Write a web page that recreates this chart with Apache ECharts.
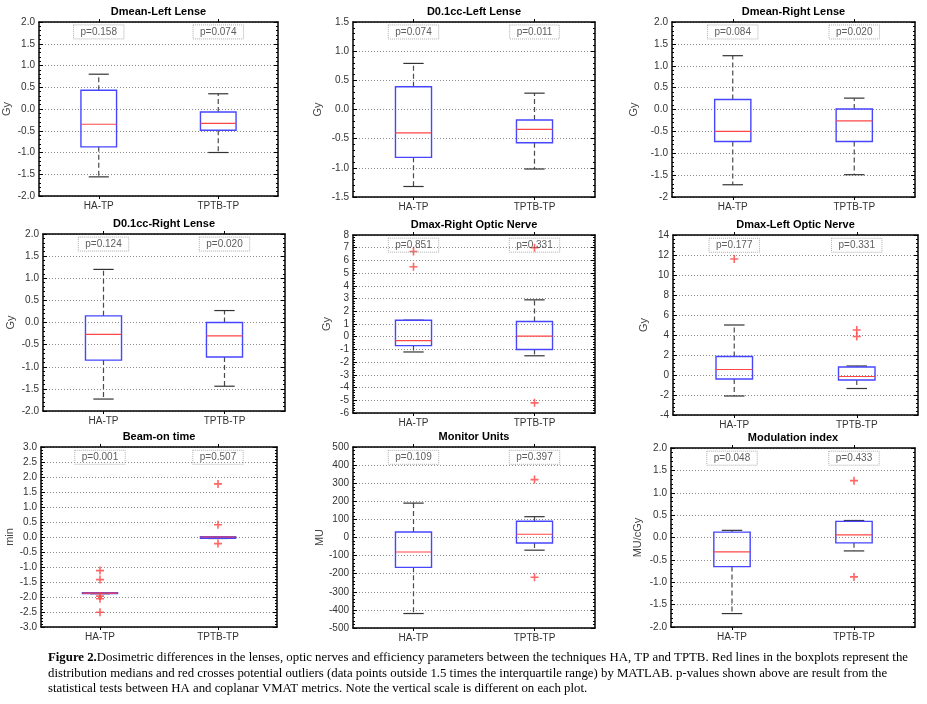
<!DOCTYPE html>
<html>
<head>
<meta charset="utf-8">
<title>Dosimetric differences</title>
<script src="https://cdn.jsdelivr.net/npm/echarts@6/dist/echarts.min.js"></script>
<style>
html, body { margin: 0; padding: 0; background: #fff; }
#chart { width: 927px; height: 704px; }
</style>
</head>
<body>
<div id="chart"></div>
<script>
// ---- values ----
var categories = ['HA-TP', 'TPTB-TP'];

var titles = ['Dmean-Left Lense', 'D0.1cc-Left Lense', 'Dmean-Right Lense',
	'D0.1cc-Right Lense', 'Dmax-Right Optic Nerve', 'Dmax-Left Optic Nerve',
	'Beam-on time', 'Monitor Units', 'Modulation index'];

var units = ['Gy', 'Gy', 'Gy', 'Gy', 'Gy', 'Gy', 'min', 'MU', 'MU/cGy'];

var lensTicks = ['-2.0', '-1.5', '-1.0', '-0.5', '0.0', '0.5', '1.0', '1.5', '2.0'];
var yTickLabels = [
	lensTicks,
	['-1.5', '-1.0', '-0.5', '0.0', '0.5', '1.0', '1.5'],
	['-2', '-1.5', '-1.0', '-0.5', '0.0', '0.5', '1.0', '1.5', '2.0'],
	lensTicks,
	['-6', '-5', '-4', '-3', '-2', '-1', '0', '1', '2', '3', '4', '5', '6', '7', '8'],
	['-4', '-2', '0', '2', '4', '6', '8', '10', '12', '14'],
	['-3.0', '-2.5', '-2.0', '-1.5', '-1.0', '-0.5', '0.0', '0.5', '1.0', '1.5', '2.0', '2.5', '3.0'],
	['-500', '-400', '-300', '-200', '-100', '0', '100', '200', '300', '400', '500'],
	lensTicks
];

// [min, q1, median, q3, max]
var haBoxes = [
	[-1.56, -0.87, -0.35, 0.43, 0.80],
	[-1.32, -0.82, -0.40, 0.39, 0.79],
	[-1.72, -0.73, -0.50, 0.23, 1.23],
	[-1.73, -0.85, -0.27, 0.15, 1.20],
	[-1.2, -0.7, -0.3, 1.3, 1.3],
	[-2.1, -0.4, 0.55, 1.85, 5.0],
	[-1.89, -1.885, -1.87, -1.855, -1.855],
	[-420, -165, -80, 30, 190],
	[-1.70, -0.65, -0.32, 0.12, 0.16]
];
var tptbBoxes = [
	[-1.00, -0.49, -0.33, -0.07, 0.35],
	[-1.02, -0.57, -0.34, -0.18, 0.28],
	[-1.49, -0.73, -0.26, 0.01, 0.26],
	[-1.44, -0.78, -0.30, 0.00, 0.27],
	[-1.5, -1.0, 0.05, 1.2, 2.9],
	[-1.35, -0.5, -0.15, 0.8, 0.9],
	[-0.05, -0.04, 0.0, 0.01, 0.01],
	[-70, -30, 18, 90, 115],
	[-0.30, -0.12, 0.06, 0.36, 0.38]
];

var haOutliers = [[], [], [], [], [6.7, 5.5], [11.6], [-1.12, -1.42, -1.97, -2.06, -2.51], [], []];
var tptbOutliers = [[], [], [], [], [7.0, -5.2], [4.5, 3.85], [1.77, 0.41, -0.22], [320, -220], [1.27, -0.88]];

var pValues = [['0.158', '0.074'], ['0.074', '0.011'], ['0.084', '0.020'],
	['0.124', '0.020'], ['0.851', '0.331'], ['0.177', '0.331'],
	['0.001', '0.507'], ['0.109', '0.397'], ['0.048', '0.433']];

var captionLines = [
	'Dosimetric differences in the lenses, optic nerves and efficiency parameters between the techniques HA, TP and TPTB. Red lines in the boxplots represent the',
	'distribution medians and red crosses potential outliers (data points outside 1.5 times the interquartile range) by MATLAB. p-values shown above are result from the',
	'statistical tests between HA and coplanar VMAT metrics. Note the vertical scale is different on each plot.'
];

// ---- layout: [left, top, width, height] of each plot box, and y-name gap ----
var boxes = [
	[39, 22, 239, 174], [353, 22, 242, 175], [672, 22, 243, 175],
	[43, 234, 242, 177], [353, 235, 242, 178], [673, 235, 245, 180],
	[41, 447, 236, 180], [353, 447, 242, 181], [671, 448, 244, 179]
];
var nameGaps = [27, 30, 33, 27, 21, 24, 26, 28, 28];

var FONT = "'Liberation Sans', Arial, sans-serif";
var SERIF = "'Liberation Serif', 'Times New Roman', serif";
var PLUS = 'path://M4,0L6,0L6,4L10,4L10,6L6,6L6,10L4,10L4,6L0,6L0,4L4,4Z';

function renderBox(params, api) {
	var c = api.value(0);
	var lo = api.coord([c, api.value(1)]);
	var q1 = api.coord([c, api.value(2)]);
	var md = api.coord([c, api.value(3)]);
	var q3 = api.coord([c, api.value(4)]);
	var hi = api.coord([c, api.value(5)]);
	var band = api.size([1, 0])[0];
	var half = band * 0.149;
	var cap = band * 0.084;
	var x = lo[0];
	function dashed() { return { stroke: '#4a4a4a', lineWidth: 1.2, lineDash: [5, 3] }; }
	function solid() { return { stroke: '#333', lineWidth: 1.2 }; }
	return {
		type: 'group',
		children: [
			{ type: 'line', shape: { x1: x, y1: q3[1], x2: x, y2: hi[1] }, style: dashed() },
			{ type: 'line', shape: { x1: x, y1: q1[1], x2: x, y2: lo[1] }, style: dashed() },
			{ type: 'line', shape: { x1: x - cap, y1: hi[1], x2: x + cap, y2: hi[1] }, style: solid() },
			{ type: 'line', shape: { x1: x - cap, y1: lo[1], x2: x + cap, y2: lo[1] }, style: solid() },
			{ type: 'rect', shape: { x: x - half, y: q3[1], width: half * 2, height: q1[1] - q3[1] },
				style: { fill: 'none', stroke: '#4646ff', lineWidth: 1.4 } },
			{ type: 'line', shape: { x1: x - half, y1: md[1], x2: x + half, y2: md[1] },
				style: { stroke: '#ff4646', lineWidth: 1.2 } }
		]
	};
}

var grid = [], xAxis = [], yAxis = [], series = [], graphic = [];

for (var i = 0; i < 9; i++) {
	(function (i) {
		var b = boxes[i];
		var labels = yTickLabels[i];
		var min = parseFloat(labels[0]);
		var max = parseFloat(labels[labels.length - 1]);
		var step = parseFloat(labels[1]) - min;
		var frame = { show: true, onZero: false, lineStyle: { color: '#000', width: 1.5 } };

		grid.push({ left: b[0], top: b[1], width: b[2], height: b[3] });

		var xBase = {
			gridIndex: i, type: 'category', data: categories,
			axisLine: frame,
			axisTick: { show: true, alignWithLabel: true, length: 3, lineStyle: { color: '#000' } },
			splitLine: { show: false }
		};
		xAxis.push(Object.assign({}, xBase, {
			position: 'bottom',
			axisLabel: { color: '#333', fontSize: 10, fontFamily: FONT, margin: 5 }
		}));
		xAxis.push(Object.assign({}, xBase, { position: 'top', axisLabel: { show: false } }));

		var yBase = {
			gridIndex: i, type: 'value', min: min, max: max, interval: step,
			axisLine: frame,
			axisTick: { show: true, inside: true, length: 4, lineStyle: { color: '#000' } },
			minorTick: { show: true, splitNumber: 5, length: 2, lineStyle: { color: '#000' } }
		};
		yAxis.push(Object.assign({}, yBase, {
			position: 'left',
			name: units[i], nameLocation: 'middle', nameGap: nameGaps[i],
			nameTextStyle: { color: '#444', fontSize: 11, fontFamily: FONT },
			axisLabel: {
				color: '#333', fontSize: 10, fontFamily: FONT, margin: 4,
				formatter: function (v) { return labels[Math.round((v - min) / step)]; }
			},
			splitLine: { show: true, lineStyle: { color: '#8a8a8a', width: 1, type: [1, 2] } }
		}));
		yAxis.push(Object.assign({}, yBase, {
			position: 'right', axisLabel: { show: false }, splitLine: { show: false }
		}));

		var ax = { xAxisIndex: 2 * i, yAxisIndex: 2 * i };

		series.push(Object.assign({
			type: 'custom', renderItem: renderBox, silent: true,
			encode: { x: 0, y: [1, 2, 3, 4, 5] },
			data: [[0].concat(haBoxes[i]), [1].concat(tptbBoxes[i])]
		}, ax));

		var outs = [];
		haOutliers[i].forEach(function (v) { outs.push([0, v]); });
		tptbOutliers[i].forEach(function (v) { outs.push([1, v]); });
		series.push(Object.assign({
			type: 'scatter', symbol: PLUS, symbolSize: 8, silent: true,
			itemStyle: { color: '#ff4040' }, data: outs
		}, ax));

		var pv = pValues[i];
		var py = max - (max - min) * 0.057;
		series.push(Object.assign({
			type: 'scatter', symbolSize: 0, silent: true,
			data: [[0, py], [1, py]],
			label: {
				show: true, position: 'inside', color: '#333', fontSize: 10, fontFamily: FONT,
				formatter: function (p) { return 'p=' + pv[p.dataIndex]; },
				borderColor: '#999', borderWidth: 1, borderType: 'dotted', padding: [2, 7]
			}
		}, ax));

		graphic.push({
			type: 'text', x: b[0] + b[2] / 2, y: b[1] - 10,
			style: {
				text: titles[i], fill: '#000', font: 'bold 11px ' + FONT,
				align: 'center', verticalAlign: 'middle', textAlign: 'center', textVerticalAlign: 'middle'
			}
		});
	})(i);
}

captionLines.forEach(function (line, k) {
	graphic.push({
		type: 'text', x: 48, y: 658 + k * 15.5,
		style: {
			text: (k === 0 ? '{b|Figure 2.}' : '') + line,
			rich: { b: { fontWeight: 'bold', fontFamily: SERIF, fontSize: 12.8, fill: '#000' } },
			font: '12.8px ' + SERIF, fill: '#000',
			verticalAlign: 'middle', textVerticalAlign: 'middle'
		}
	});
});

var chart = echarts.init(document.getElementById('chart'));
chart.setOption({
	animation: false,
	backgroundColor: '#fff',
	grid: grid,
	xAxis: xAxis,
	yAxis: yAxis,
	series: series,
	graphic: graphic
});
</script>
</body>
</html>
